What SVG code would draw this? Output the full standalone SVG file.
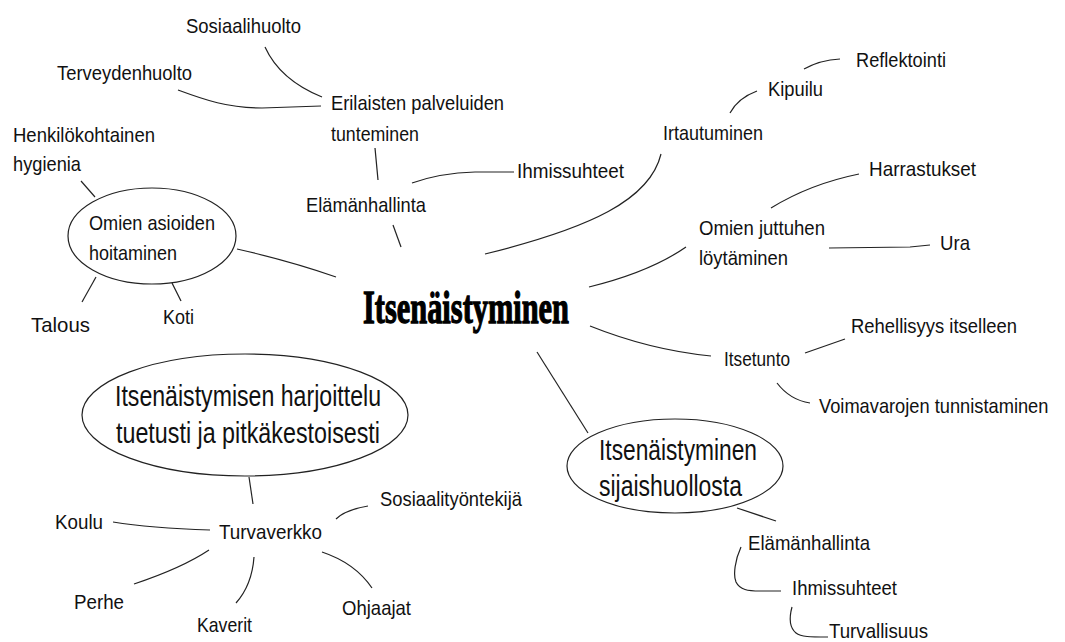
<svg xmlns="http://www.w3.org/2000/svg" width="1065" height="642" viewBox="0 0 1065 642">
<style>
text{font-family:"Liberation Sans Narrow","Liberation Sans",Arial,sans-serif;font-size:21px;fill:#111}
.big{font-size:29px}
.title{font-family:"Liberation Serif","Times New Roman",serif;font-weight:bold;font-size:47px;fill:#000;stroke:#000;stroke-width:1.3}
.ell{fill:none;stroke:#222;stroke-width:1.2}
.c path{fill:none;stroke:#222;stroke-width:1.2}
</style>
<rect width="1065" height="642" fill="#fff"/>
<g class="c" id="connectors">
<path d="M265,47 Q280,80 322,97"/>
<path d="M178,90 C205,100 228,108 262,108 L321,106"/>
<path d="M375,148 L378,180"/>
<path d="M412,183 Q440,173 475,172 L514,172"/>
<path d="M393,225 L401,247"/>
<path d="M237,249 Q290,261 336,277"/>
<path d="M81,181 L95,197"/>
<path d="M96,277 L82,302"/>
<path d="M172,283 L181,301"/>
<path d="M485,254 C590,228 650,200 661,154"/>
<path d="M730,113 Q738,98 757,91"/>
<path d="M804,69 Q820,60 840,59"/>
<path d="M589,287 Q650,272 686,247"/>
<path d="M771,208 Q810,184 859,174"/>
<path d="M829,248 L910,247 L930,245"/>
<path d="M590,326 Q650,350 711,356"/>
<path d="M805,353 L845,339"/>
<path d="M777,383 Q790,400 810,403"/>
<path d="M537,352 L588,433"/>
<path d="M737,508 L776,521"/>
<path d="M741,547 C735,560 733,575 736,582 C740,590 748,591 760,591 L781,591"/>
<path d="M792,607 C789,618 790,628 796,633 C801,637 810,637 828,637"/>
<path d="M249,477 L253,504"/>
<path d="M113,522 Q150,528 210,530"/>
<path d="M336,519 Q345,510 368,506"/>
<path d="M209,550 Q182,568 134,584"/>
<path d="M254,557 Q252,585 236,603"/>
<path d="M322,552 Q355,563 372,588"/>
</g>
<g id="n-center"><text class="title" x="363" y="323" textLength="206" lengthAdjust="spacingAndGlyphs">Itsenäistyminen</text></g>
<g id="n-sosiaalihuolto"><text x="186" y="33" textLength="115" lengthAdjust="spacingAndGlyphs">Sosiaalihuolto</text></g>
<g id="n-terveydenhuolto"><text x="57" y="80" textLength="135" lengthAdjust="spacingAndGlyphs">Terveydenhuolto</text></g>
<g id="n-erilaisten"><text x="331" y="110" textLength="173" lengthAdjust="spacingAndGlyphs">Erilaisten palveluiden</text><text x="331" y="141" textLength="88" lengthAdjust="spacingAndGlyphs">tunteminen</text></g>
<g id="n-hygienia"><text x="13" y="142" textLength="142" lengthAdjust="spacingAndGlyphs">Henkilökohtainen</text><text x="13" y="171" textLength="68" lengthAdjust="spacingAndGlyphs">hygienia</text></g>
<g id="n-elamanhallinta1"><text x="306" y="212" textLength="120" lengthAdjust="spacingAndGlyphs">Elämänhallinta</text></g>
<g id="n-ihmissuhteet1"><text x="517" y="178" textLength="107" lengthAdjust="spacingAndGlyphs">Ihmissuhteet</text></g>
<g id="n-omien-asioiden"><ellipse class="ell" cx="152" cy="236" rx="84" ry="48"/><text x="89" y="230" textLength="126" lengthAdjust="spacingAndGlyphs">Omien asioiden</text><text x="89" y="260" textLength="88" lengthAdjust="spacingAndGlyphs">hoitaminen</text></g>
<g id="n-talous"><text x="31" y="332" textLength="59" lengthAdjust="spacingAndGlyphs">Talous</text></g>
<g id="n-koti"><text x="163" y="324" textLength="31" lengthAdjust="spacingAndGlyphs">Koti</text></g>
<g id="n-reflektointi"><text x="856" y="67" textLength="90" lengthAdjust="spacingAndGlyphs">Reflektointi</text></g>
<g id="n-kipuilu"><text x="768" y="96" textLength="55" lengthAdjust="spacingAndGlyphs">Kipuilu</text></g>
<g id="n-irtautuminen"><text x="663" y="140" textLength="100" lengthAdjust="spacingAndGlyphs">Irtautuminen</text></g>
<g id="n-harrastukset"><text x="869" y="176" textLength="107" lengthAdjust="spacingAndGlyphs">Harrastukset</text></g>
<g id="n-omien-juttuhen"><text x="699" y="235" textLength="126" lengthAdjust="spacingAndGlyphs">Omien juttuhen</text><text x="699" y="265" textLength="89" lengthAdjust="spacingAndGlyphs">löytäminen</text></g>
<g id="n-ura"><text x="940" y="250" textLength="30" lengthAdjust="spacingAndGlyphs">Ura</text></g>
<g id="n-rehellisyys"><text x="851" y="333" textLength="166" lengthAdjust="spacingAndGlyphs">Rehellisyys itselleen</text></g>
<g id="n-itsetunto"><text x="724" y="366" textLength="66" lengthAdjust="spacingAndGlyphs">Itsetunto</text></g>
<g id="n-voimavarojen"><text transform="translate(819,413) scale(0.87,1)" x="0" y="0">Voimavarojen tunnistaminen</text></g>
<g id="n-sijaishuolto"><ellipse class="ell" cx="675" cy="466" rx="108" ry="47"/><text class="big" x="599" y="460" textLength="158" lengthAdjust="spacingAndGlyphs">Itsenäistyminen</text><text class="big" x="599" y="496" textLength="143" lengthAdjust="spacingAndGlyphs">sijaishuollosta</text></g>
<g id="n-elamanhallinta2"><text x="748" y="550" textLength="122" lengthAdjust="spacingAndGlyphs">Elämänhallinta</text></g>
<g id="n-ihmissuhteet2"><text x="792" y="595" textLength="105" lengthAdjust="spacingAndGlyphs">Ihmissuhteet</text></g>
<g id="n-turvallisuus"><text x="829" y="638" textLength="99" lengthAdjust="spacingAndGlyphs">Turvallisuus</text></g>
<g id="n-harjoittelu"><ellipse class="ell" cx="245" cy="415" rx="163" ry="61"/><text class="big" x="115" y="406" textLength="266" lengthAdjust="spacingAndGlyphs">Itsenäistymisen harjoittelu</text><text class="big" x="116" y="443" textLength="264" lengthAdjust="spacingAndGlyphs">tuetusti ja pitkäkestoisesti</text></g>
<g id="n-sosiaalityontekija"><text x="380" y="506" textLength="142" lengthAdjust="spacingAndGlyphs">Sosiaalityöntekijä</text></g>
<g id="n-koulu"><text x="55" y="529" textLength="48" lengthAdjust="spacingAndGlyphs">Koulu</text></g>
<g id="n-turvaverkko"><text x="219" y="539" textLength="103" lengthAdjust="spacingAndGlyphs">Turvaverkko</text></g>
<g id="n-perhe"><text x="74" y="609" textLength="50" lengthAdjust="spacingAndGlyphs">Perhe</text></g>
<g id="n-kaverit"><text x="197" y="632" textLength="55" lengthAdjust="spacingAndGlyphs">Kaverit</text></g>
<g id="n-ohjaajat"><text x="342" y="615" textLength="69" lengthAdjust="spacingAndGlyphs">Ohjaajat</text></g>
</svg>
